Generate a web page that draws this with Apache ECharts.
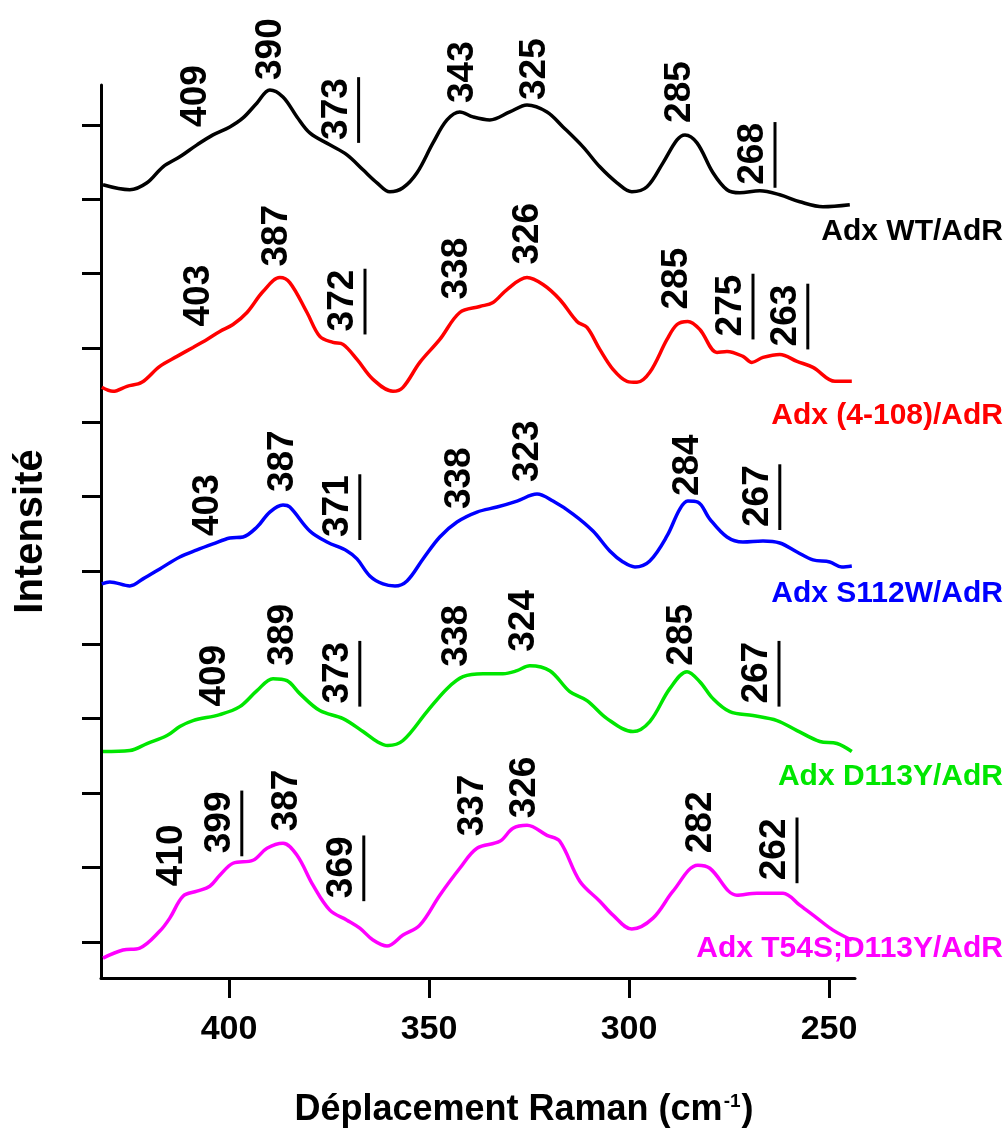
<!DOCTYPE html>
<html>
<head>
<meta charset="utf-8">
<title>Spectres Raman Adx/AdR</title>
<script src="https://cdn.jsdelivr.net/npm/echarts@6/dist/echarts.min.js"></script>
<style>
  html, body { margin: 0; padding: 0; background: #fff; }
  #chart { width: 1008px; height: 1133px; }
</style>
</head>
<body>
<div id="chart"></div>
<script>
// x = Raman shift (cm-1), y = intensity (a.u., spectra stacked with an offset)
const xTicks = [400, 350, 300, 250];
const yTicks = [36, 111, 185, 260, 334, 408, 483, 557, 631, 706, 780, 855];

const seriesNames = ['Adx WT/AdR', 'Adx (4-108)/AdR', 'Adx S112W/AdR', 'Adx D113Y/AdR', 'Adx T54S;D113Y/AdR'];
const seriesColors = ['#000000', '#ff0000', '#0000ff', '#00e600', '#ff00ff'];
// vertical position of each series name, in intensity units
const nameLevels = [748, 564, 386, 203, 31];

const wtSpectrum = [
  [431.5, 795], [424.8, 790], [420.5, 797], [416.5, 813], [412.3, 823], [408, 835], [404, 845],
  [399.8, 853], [396.5, 862], [393, 877], [389.8, 890], [386.5, 883], [383, 863], [379.8, 847],
  [374.8, 835], [370.5, 825], [366.5, 810], [363, 797], [359.8, 788], [356.5, 792], [353, 807],
  [349, 837], [345.5, 860], [342.3, 868], [339, 863], [334.8, 860], [329.8, 868], [325.5, 875],
  [320.5, 868], [316.5, 853], [311.5, 833], [307.3, 813], [303, 797], [299.3, 788], [295.5, 793],
  [291.5, 817], [288, 840], [286, 845], [283, 837], [279, 807], [275.5, 790], [272.3, 787],
  [267.3, 789], [262.3, 785], [257.3, 778], [251.5, 773], [244.8, 775]
];
const truncSpectrum = [
  [431.8, 592], [429, 588], [425.5, 593], [421.8, 597], [417.3, 613], [413, 623], [409, 632],
  [405.5, 640], [402.3, 648], [399, 655], [395.5, 667], [391.5, 688], [387.3, 702], [384.8, 697],
  [380.5, 667], [377.3, 643], [374, 637], [371.5, 635], [368, 620], [364, 600], [359, 588],
  [356.5, 592], [352.3, 617], [347.3, 640], [342.3, 667], [337.3, 673], [334, 677], [330.5, 690],
  [325.5, 702], [321.5, 695], [317.3, 680], [313, 658], [310.5, 652], [307.3, 630], [304, 610],
  [300.5, 598], [298, 597], [294.8, 607], [290.5, 640], [288, 655], [285.3, 658], [282.3, 650],
  [278, 627], [275.5, 628], [271.5, 623], [269.3, 617], [266.5, 622], [262.3, 625], [258, 618],
  [254, 612], [248.5, 598], [244.3, 598]
];
const s112wSpectrum = [
  [431.8, 395], [429.8, 397], [424.8, 393], [421.5, 400], [417.3, 410], [412.3, 422], [408, 429],
  [404, 435], [399.8, 441], [396.5, 442], [393, 452], [389.8, 467], [386.5, 474], [384.8, 472],
  [379.8, 448], [375.5, 437], [370.5, 428], [368, 420], [364.8, 403], [361.5, 395], [358.5, 393],
  [355.5, 398], [351.5, 420], [347.3, 442], [343, 457], [338, 467], [333, 472], [328, 478],
  [323, 485], [319, 478], [314, 465], [309, 448], [304.8, 428], [301.5, 417], [298.5, 412],
  [294.8, 418], [290.5, 443], [287.3, 470], [285.3, 478], [282.8, 477], [279.8, 460], [275.5, 442],
  [271.5, 437], [266.5, 438], [262.3, 436], [258, 427], [254, 419], [249.8, 417], [246.8, 412],
  [244.3, 413]
];
const d113ySpectrum = [
  [431.5, 227], [424.8, 228], [420.5, 235], [415.5, 243], [412.3, 252], [409, 258], [402.3, 264],
  [397.3, 272], [393, 288], [389, 300], [385.5, 298], [382.3, 285], [377.3, 268], [371.5, 260],
  [366.5, 247], [363, 237], [360.3, 233], [356.5, 238], [350.5, 267], [345.5, 290], [341.5, 302],
  [336.5, 305], [331.5, 305], [328, 308], [324.8, 313], [319.8, 308], [314.8, 287], [310.5, 278],
  [305.5, 260], [299, 247], [294.8, 257], [289.8, 290], [285.5, 307], [282.3, 297], [279, 280],
  [274.8, 267], [269, 263], [263, 258], [258, 248], [252.3, 237], [248, 235], [244.3, 227]
];
const t54sSpectrum = [
  [431.5, 20], [426.5, 28], [422.3, 30], [417.3, 47], [414.8, 60], [411.5, 82], [408, 87],
  [404.8, 92], [402.3, 103], [399, 115], [394, 118], [390.5, 130], [386.5, 135], [383, 123],
  [379, 93], [374.8, 68], [370.5, 58], [367.3, 50], [364, 38], [360.5, 32], [356.5, 43],
  [352.3, 53], [347.3, 83], [342.3, 110], [338, 130], [332.3, 137], [329, 150], [325.5, 153],
  [320.5, 143], [317.3, 137], [312.3, 97], [307.3, 77], [304, 63], [299.3, 49], [294, 60],
  [289, 87], [282.8, 113], [279.8, 110], [273, 83], [268, 85], [261.5, 85], [257.3, 73],
  [253, 60], [249, 48], [244.3, 38]
];
const spectra = [wtSpectrum, truncSpectrum, s112wSpectrum, d113ySpectrum, t54sSpectrum];

// peak annotations: [shift, intensity at foot of label, text, underlined]
const peakLabels = [
  [408.3, 853, '409', 0], [389.5, 900, '390', 0], [373.1, 840, '373', 1], [341.5, 877, '343', 0],
  [323.5, 880, '325', 0], [287.3, 857, '285', 0], [269, 795, '268', 1],
  [407.5, 653, '403', 0], [388, 713, '387', 0], [371.5, 648, '372', 1], [343, 680, '338', 0],
  [325.3, 715, '326', 0], [288, 670, '285', 0], [274.5, 643, '275', 1], [260.8, 633, '263', 1],
  [405.3, 443, '403', 0], [386.5, 487, '387', 0], [372.8, 442, '371', 1], [342.3, 470, '338', 0],
  [325.3, 497, '323', 0], [285.3, 483, '284', 0], [267.8, 452, '267', 1],
  [403.5, 272, '409', 0], [386.5, 313, '389', 0], [372.8, 275, '373', 1], [343, 312, '338', 0],
  [326.3, 327, '324', 0], [286.8, 313, '285', 0], [268, 275, '267', 1],
  [414.3, 92, '410', 0], [402.3, 125, '399', 1], [385.5, 147, '387', 0], [371.8, 80, '369', 1],
  [339, 142, '337', 0], [326, 160, '326', 0], [282, 125, '282', 0], [263.5, 98, '262', 1]
];

const FONT = '"Liberation Sans", Arial, Helvetica, sans-serif';
const PEAK_FS = 37;

const chart = echarts.init(document.getElementById('chart'));

function renderPeak(params, api) {
  const p = api.coord([api.value(0), api.value(1)]);
  const text = String(api.value(2));
  const len = text.length * 0.556 * PEAK_FS;
  const children = [{
    type: 'text',
    x: p[0],
    y: p[1],
    rotation: Math.PI / 2,
    style: {
      text: text,
      fill: '#000',
      fontSize: PEAK_FS,
      fontWeight: 'bold',
      fontFamily: FONT,
      align: 'left',
      verticalAlign: 'middle'
    }
  }];
  if (api.value(3)) {
    children.push({
      type: 'line',
      shape: { x1: p[0] + 22, y1: p[1] + 3, x2: p[0] + 22, y2: p[1] - len - 1 },
      style: { stroke: '#000', lineWidth: 3 }
    });
  }
  return { type: 'group', children: children };
}

const lineSeries = spectra.map((data, i) => ({
  name: seriesNames[i],
  type: 'line',
  data: data,
  smooth: 0.35,
  showSymbol: false,
  symbol: 'none',
  lineStyle: { color: seriesColors[i], width: 3.5 },
  z: 3
}));

const nameGraphics = seriesNames.map((n, i) => ({
  type: 'text',
  right: 5,
  top: 980 - nameLevels[i] - 15,
  style: {
    text: n,
    fill: seriesColors[i],
    fontSize: 30,
    fontWeight: 'bold',
    fontFamily: FONT
  }
}));

chart.setOption({
  animation: false,
  backgroundColor: '#fff',
  grid: { left: 101, right: 153, top: 85, bottom: 153 },
  xAxis: {
    type: 'value',
    inverse: true,
    min: 243.5,
    max: 432,
    name: 'Déplacement Raman (cm{sup|-1})',
    nameLocation: 'middle',
    nameGap: 114,
    nameTextStyle: {
      color: '#000',
      fontSize: 36,
      fontWeight: 'bold',
      fontFamily: FONT,
      padding: [0, 0, 0, 92],
      rich: {
        sup: { fontSize: 19, fontWeight: 'bold', fontFamily: FONT, color: '#000', verticalAlign: 'top', padding: [0, 1, 14, 1] }
      }
    },
    axisLine: { onZero: false, lineStyle: { color: '#000', width: 3 } },
    axisTick: { show: true, inside: false, length: 20, customValues: xTicks, lineStyle: { color: '#000', width: 3 } },
    axisLabel: { customValues: xTicks, margin: 35, color: '#000', fontSize: 34, fontWeight: 'bold', fontFamily: FONT },
    splitLine: { show: false }
  },
  yAxis: {
    type: 'value',
    min: 0,
    max: 895,
    name: 'Intensité',
    nameLocation: 'middle',
    nameGap: 50,
    nameTextStyle: { color: '#000', fontSize: 40, fontWeight: 'bold', fontFamily: FONT },
    axisLine: { show: true, onZero: false, lineStyle: { color: '#000', width: 3 } },
    axisTick: { show: true, inside: false, length: 19, customValues: yTicks, lineStyle: { color: '#000', width: 3 } },
    axisLabel: { show: false },
    splitLine: { show: false }
  },
  series: lineSeries.concat([{
    type: 'custom',
    name: 'peaks',
    data: peakLabels,
    renderItem: renderPeak,
    clip: false,
    silent: true,
    z: 5
  }]),
  graphic: nameGraphics
});
</script>
</body>
</html>
